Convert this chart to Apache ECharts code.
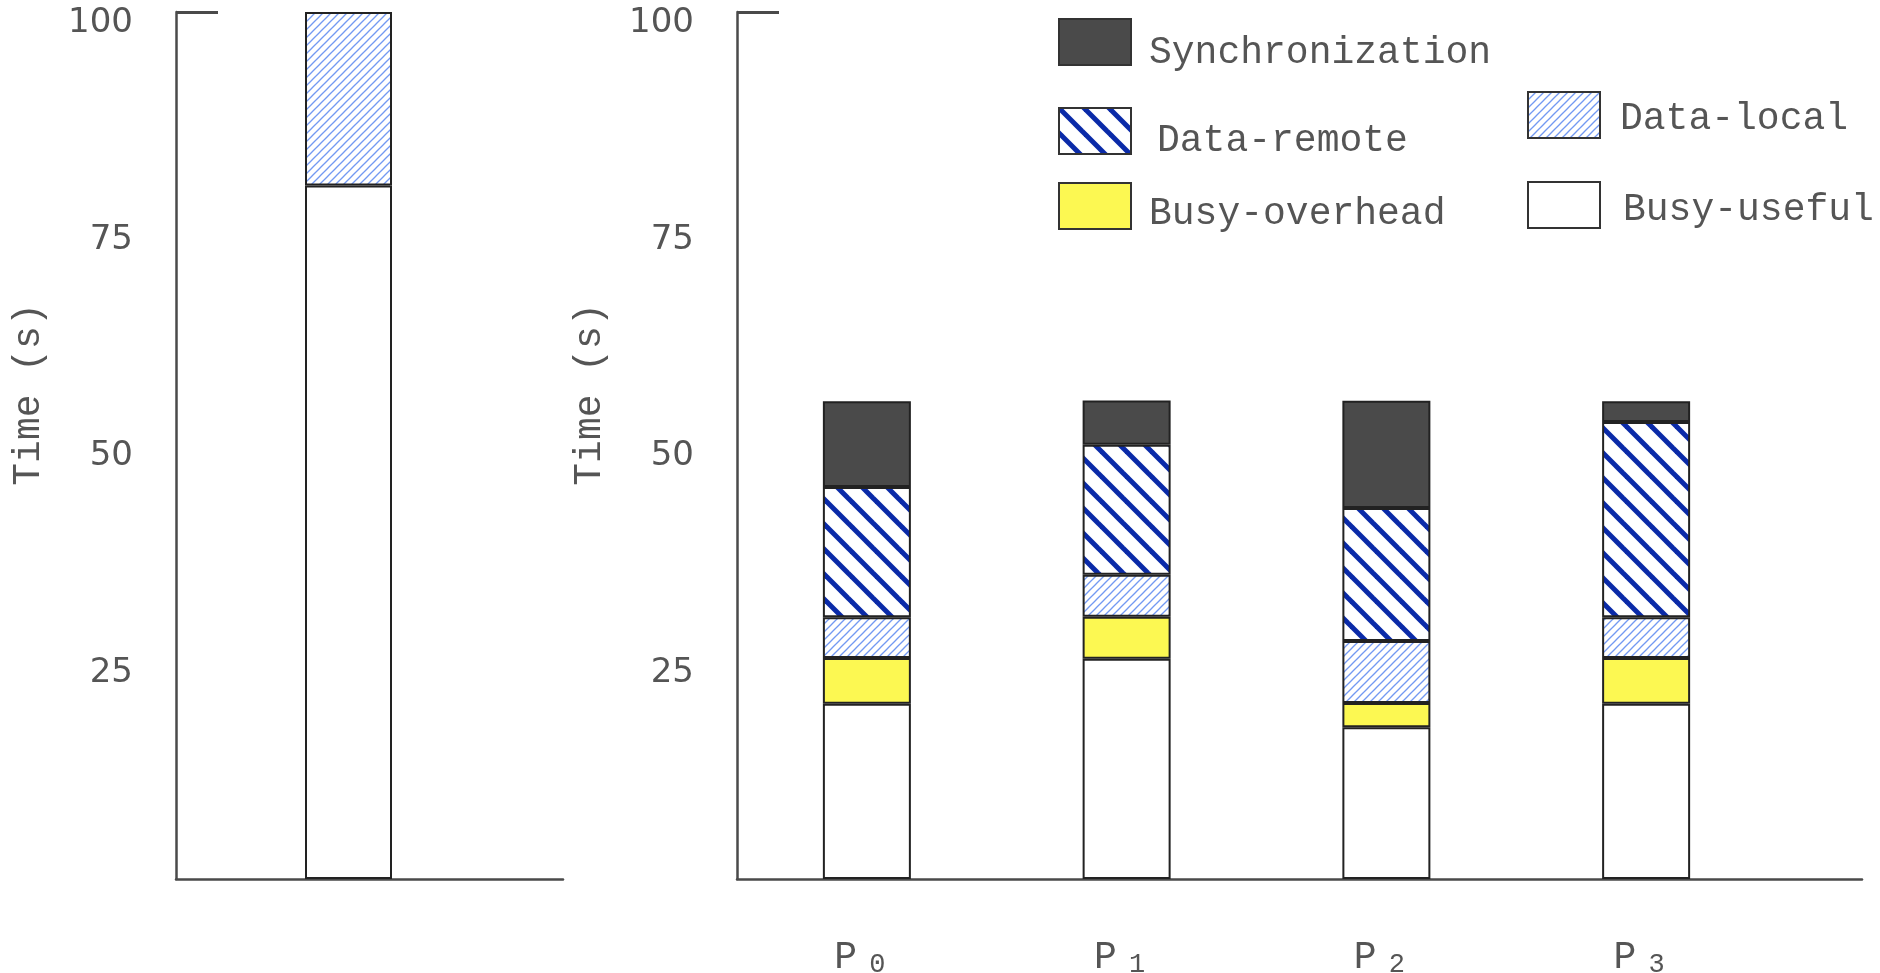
<!DOCTYPE html>
<html><head><meta charset="utf-8">
<script src="https://cdn.jsdelivr.net/npm/echarts@6/dist/echarts.min.js"></script>
<style>html,body{margin:0;padding:0;background:#fff}#c{width:1880px;height:973px}</style>
</head><body><div id="c"></div>
<script>
// ---- data ----
const categories = ['P0', 'P1', 'P2', 'P3'];
const busyUseful      = [20.2, 25.4, 17.5, 20.2];
const busyOverhead    = [5.3, 4.85, 2.8, 5.3];
const dataLocal       = [4.7, 4.85, 7.15, 4.7];
const dataRemote      = [15.0, 15.0, 15.35, 22.5];
const synchronization = [9.9, 5.1, 12.35, 2.4];
const seqCategory = ['Sequential'];
const seqUseful = [80];
const seqLocal  = [20];
const yTicks = [25, 50, 75, 100];
const yAxisTitle = 'Time (s)';

// ---- patterns ----
function stripes(size, lw, color, dir) {
  const c = document.createElement('canvas');
  c.width = c.height = size;
  const g = c.getContext('2d');
  g.fillStyle = '#fff'; g.fillRect(0, 0, size, size);
  g.strokeStyle = color; g.lineWidth = lw;
  for (let k = -1; k <= 1; k++) {
    g.beginPath();
    if (dir === 'back') { g.moveTo(k * size - 2, -2); g.lineTo(k * size + size + 2, size + 2); }
    else { g.moveTo(k * size - 2, size + 2); g.lineTo(k * size + size + 2, -2); }
    g.stroke();
  }
  return c;
}
const remoteFill = { image: stripes(25, 5, '#0a2aa8', 'back'), repeat: 'repeat' };
const localFill  = { image: stripes(8, 1.3, '#7399f2', 'fwd'), repeat: 'repeat' };

const styles = {
  'Busy-useful':     { color: '#ffffff' },
  'Busy-overhead':   { color: '#fcf852' },
  'Data-local':      { color: localFill },
  'Data-remote':     { color: remoteFill },
  'Synchronization': { color: '#4a4a4a' }
};
const border = { borderColor: '#222', borderWidth: 2 };

function barSeries(name, arr, gi, stack, width) {
  return {
    type: 'bar', name, xAxisIndex: gi, yAxisIndex: gi, stack, barWidth: width,
    data: arr,
    itemStyle: Object.assign({}, styles[name], border),
    emphasis: { disabled: true }
  };
}

const axisCol = '#4a4a4a';
const hiddenY = gi => ({ type: 'value', gridIndex: gi, min: 0, max: 100, show: false });
function frameY(gi) {
  return {
    type: 'value', gridIndex: gi, min: 0, max: 100,
    axisLine: { show: true, lineStyle: { color: axisCol, width: 2.5 } },
    axisTick: { show: true, inside: true, length: 42, customValues: [100], lineStyle: { color: axisCol, width: 3 } },
    splitLine: { show: false },
    axisLabel: {
      customValues: yTicks, margin: 43,
      formatter: v => '{v|' + v + '}',
      rich: { v: { color: '#555', fontFamily: 'DejaVu Sans', fontSize: 34, padding: [22, 0, 0, 0] } }
    },
    name: '{n|' + yAxisTitle + '}', nameLocation: 'middle', nameGap: 128, nameRotate: 90,
    nameTextStyle: { rich: { n: { fontFamily: 'Liberation Mono', fontSize: 38, color: '#555', padding: [0, 0, 0, 102] } } }
  };
}
const frameX = gi => ({
  type: 'value', gridIndex: gi, min: 0, max: 1,
  axisLine: { show: true, onZero: false, lineStyle: { color: axisCol, width: 2.5 } },
  axisTick: { show: false }, axisLabel: { show: false }, splitLine: { show: false }
});

function legendItem(name, left, top, padTop, padLeft) {
  return {
    data: [name], left, top, padding: 0, orient: 'horizontal',
    itemWidth: 72, itemHeight: 46, icon: 'rect', selectedMode: false,
    itemStyle: { borderColor: '#333', borderWidth: 2 },
    formatter: n => '{t|' + n + '}',
    textStyle: { rich: { t: { fontFamily: 'Liberation Mono', fontSize: 38, color: '#555', padding: [padTop, 0, 0, padLeft] } } }
  };
}

const gridBase = { top: 12, height: 867, outerBoundsMode: 'none', containLabel: false };
const option = {
  animation: false,
  backgroundColor: '#fff',
  grid: [
    Object.assign({ left: 176, width: 345 }, gridBase),   // sequential bars
    Object.assign({ left: 737, width: 1039 }, gridBase),  // parallel bars
    Object.assign({ left: 176, width: 387 }, gridBase),   // left frame
    Object.assign({ left: 737, width: 1125 }, gridBase)   // right frame
  ],
  xAxis: [
    { type: 'category', gridIndex: 0, data: seqCategory, show: false },
    { type: 'category', gridIndex: 1, data: categories,
      axisLine: { show: false }, axisTick: { show: false },
      axisLabel: {
        margin: 64,
        formatter: c => '{p|' + c.charAt(0) + '}{s|' + c.slice(1) + '}',
        rich: {
          p: { fontFamily: 'Liberation Mono', fontSize: 38, color: '#555', lineHeight: 30, verticalAlign: 'middle' },
          s: { fontFamily: 'Liberation Mono', fontSize: 27, color: '#555', lineHeight: 20, padding: [14, 14, 0, 12], verticalAlign: 'middle' }
        }
      } },
    frameX(2), frameX(3)
  ],
  yAxis: [hiddenY(0), hiddenY(1), frameY(2), frameY(3)],
  legend: [
    legendItem('Synchronization', 1058, 18, 21, 13),
    legendItem('Data-remote', 1058, 107, 20, 21),
    legendItem('Busy-overhead', 1058, 182, 15, 13),
    legendItem('Data-local', 1527, 91, 7, 15),
    legendItem('Busy-useful', 1527, 181, 9, 18)
  ],
  series: [
    barSeries('Busy-useful', seqUseful, 0, 'l', 87),
    barSeries('Data-local', seqLocal, 0, 'l', 87),
    barSeries('Busy-useful', busyUseful, 1, 'r', 88),
    barSeries('Busy-overhead', busyOverhead, 1, 'r', 88),
    barSeries('Data-local', dataLocal, 1, 'r', 88),
    barSeries('Data-remote', dataRemote, 1, 'r', 88),
    barSeries('Synchronization', synchronization, 1, 'r', 88)
  ]
};
echarts.init(document.getElementById('c'), null, { renderer: 'canvas' }).setOption(option);
</script>
</body></html>
